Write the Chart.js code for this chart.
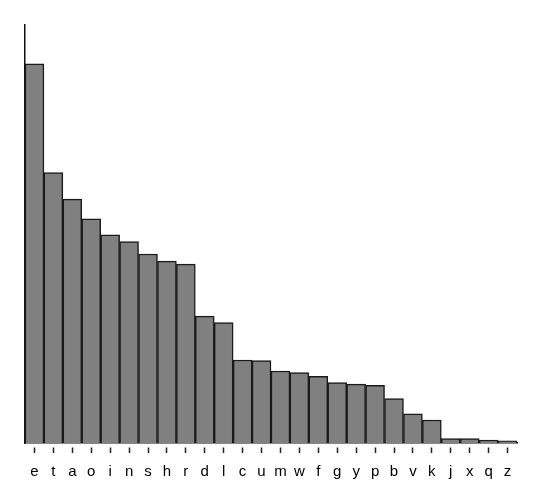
<!DOCTYPE html>
<html>
<head>
<meta charset="utf-8">
<script src="https://cdn.jsdelivr.net/npm/chart.js@4/dist/chart.umd.min.js"></script>
<style>
  html, body { margin: 0; padding: 0; background: #fff; }
  #wrap { width: 543px; height: 504px; }
</style>
</head>
<body>
<div id="wrap"><canvas id="chart" width="543" height="504"></canvas></div>
<script>
/* Data: letter frequency (%) */
const letters = ["e","t","a","o","i","n","s","h","r","d","l","c","u","m","w","f","g","y","p","b","v","k","j","x","q","z"];
const freq = [12.70, 9.06, 8.17, 7.51, 6.97, 6.75, 6.33, 6.09, 5.99, 4.25, 4.03, 2.78, 2.76, 2.41, 2.36, 2.23, 2.02, 1.97, 1.93, 1.49, 0.98, 0.77, 0.15, 0.15, 0.10, 0.07];
const yMax = 14;

const chart = new Chart(document.getElementById("chart"), {
    type: "bar",
    data: {
        labels: letters,
        datasets: [{
            data: freq,
            backgroundColor: "#808080",
            borderColor: "#1a1a1a",
            borderWidth: 1.5,
            barPercentage: 1,
            categoryPercentage: 1
        }]
    },
    options: {
        responsive: false,
        animation: false,
        layout: { padding: { left: 25, right: 26, top: 25, bottom: 13 } },
        plugins: { legend: { display: false }, tooltip: { enabled: false } },
        scales: {
            x: {
                offset: true,
                grid: {
                    offset: false,
                    drawOnChartArea: false,
                    drawTicks: true,
                    tickLength: 10,
                    tickColor: "#222",
                    tickWidth: 1.5,
                    tickBorderDash: [0, 4, 6, 100]
                },
                border: { display: true, color: "#111", width: 1.5 },
                ticks: {
                    color: "#000",
                    padding: 10,
                    font: { family: "Liberation Sans, Arial, sans-serif", size: 15 },
                    maxRotation: 0,
                    autoSkip: false
                }
            },
            y: {
                min: 0,
                max: yMax,
                grid: { display: false, drawTicks: false },
                border: { display: true, color: "#111", width: 1.5 },
                ticks: { display: false }
            }
        }
    }
});
</script>
</body>
</html>
